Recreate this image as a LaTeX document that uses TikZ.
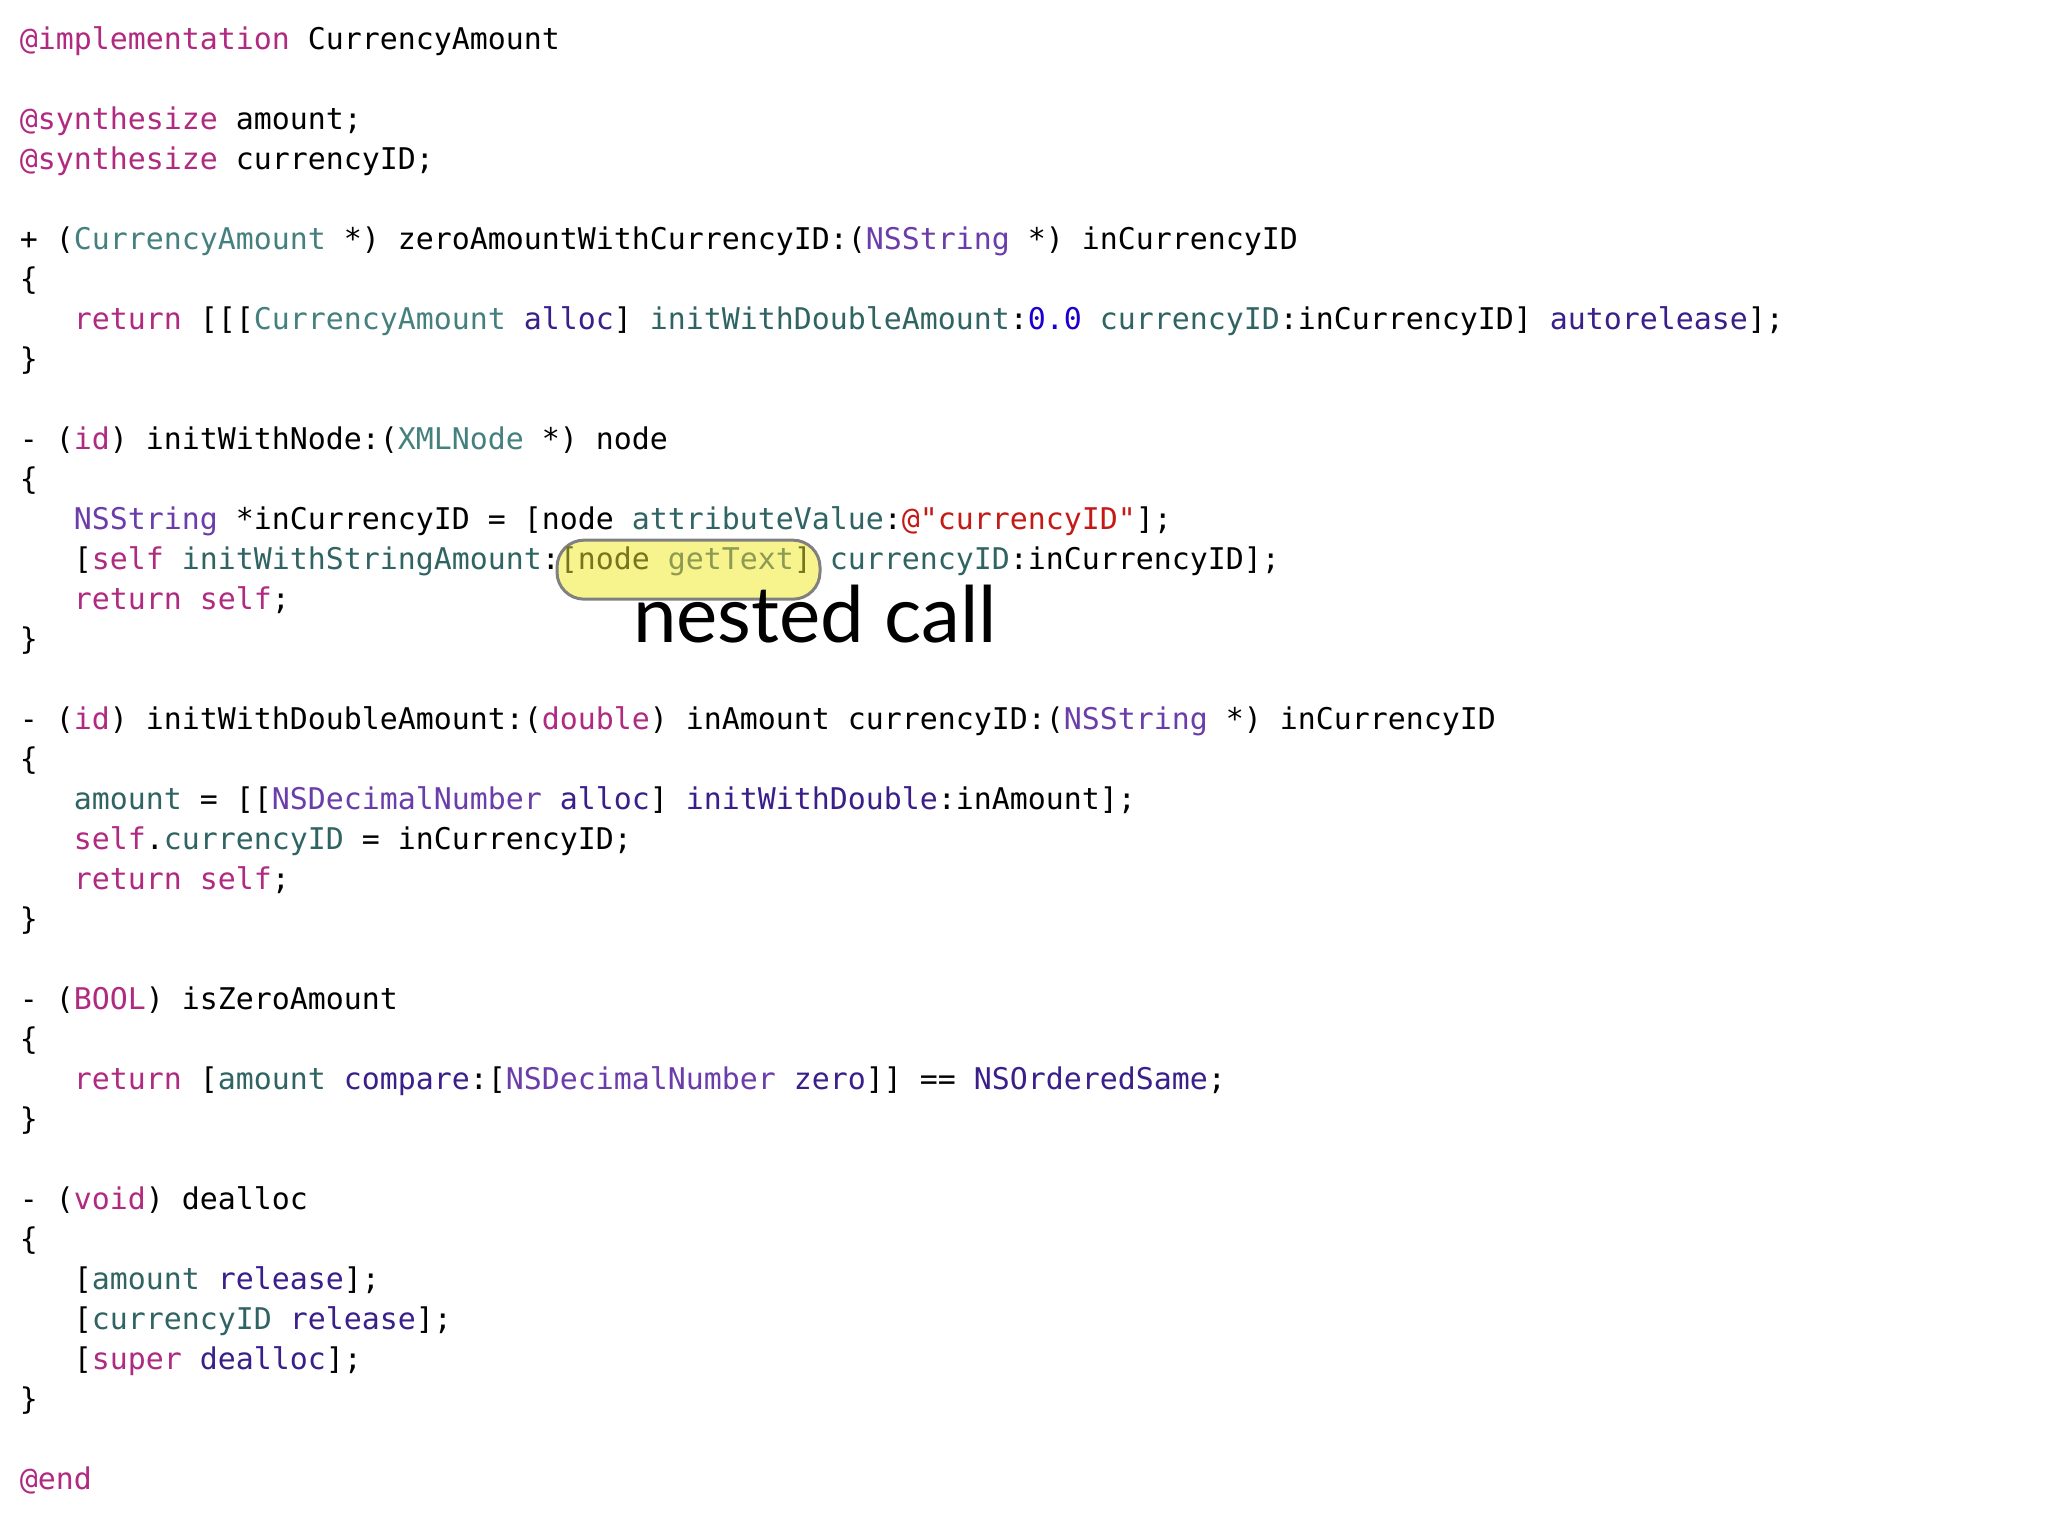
\documentclass[tikz,border=0pt]{standalone}
\usepackage{fontspec}
\newfontfamily\codefont{DejaVu Sans Mono}
\newfontfamily\labelfont{Lato}
\definecolor{kwc}{HTML}{B02A80}
\definecolor{pcc}{HTML}{44807E}
\definecolor{pmc}{HTML}{2F6463}
\definecolor{syc}{HTML}{6A3DAA}
\definecolor{smc}{HTML}{3A1F8A}
\definecolor{nuc}{HTML}{1C00CF}
\definecolor{stc}{HTML}{C41A16}
\definecolor{hlfill}{HTML}{F7F48E}
\definecolor{hltext}{HTML}{76741E}
\definecolor{hlmeth}{HTML}{8C9A52}
\newcommand\tkw[1]{\textcolor{kwc}{#1}}
\newcommand\tpc[1]{\textcolor{pcc}{#1}}
\newcommand\tpm[1]{\textcolor{pmc}{#1}}
\newcommand\tsy[1]{\textcolor{syc}{#1}}
\newcommand\tsm[1]{\textcolor{smc}{#1}}
\newcommand\tnu[1]{\textcolor{nuc}{#1}}
\newcommand\tst[1]{\textcolor{stc}{#1}}
\newcommand\cl[3]{\node[codeline] (l#1) at ({19.6+18.0*#2},{-(47+40*#1)}) {#3};}
\begin{document}
\frenchspacing
\begin{tikzpicture}[x=1pt,y=1pt,
  codeline/.style={anchor=mid west,inner sep=0pt,font=\codefont\fontsize{29.9}{36}\selectfont},
  hlbox/.style={codeline,anchor=mid,draw=gray,line width=3pt,fill=hlfill,rounded corners=27pt,minimum height=59pt,minimum width=263pt}]
\useasboundingbox (0,0) rectangle (2048,-1536);
\cl{0}{0}{\tkw{@implementation} CurrencyAmount}
\cl{2}{0}{\tkw{@synthesize} amount;}
\cl{3}{0}{\tkw{@synthesize} currencyID;}
\cl{5}{0}{+ (\tpc{CurrencyAmount} *) zeroAmountWithCurrencyID:(\tsy{NSString} *) inCurrencyID}
\cl{6}{0}{\{}
\cl{7}{3}{\tkw{return} [[[\tpc{CurrencyAmount} \tsm{alloc}] \tpm{initWithDoubleAmount}:\tnu{0.0} \tpm{currencyID}:inCurrencyID] \tsm{autorelease}];}
\cl{8}{0}{\}}
\cl{10}{0}{- (\tkw{id}) initWithNode:(\tpc{XMLNode} *) node}
\cl{11}{0}{\{}
\cl{12}{3}{\tsy{NSString} *inCurrencyID = [node \tpm{attributeValue}:\tst{@"currencyID"}];}
\node[hlbox] (hl) at (688.5,-567.5) {};
\cl{13}{3}{[\tkw{self} \tpm{initWithStringAmount}:\textcolor{hltext}{[node \textcolor{hlmeth}{getText}]} \tpm{currencyID}:inCurrencyID];}
\cl{14}{3}{\tkw{return self};}
\cl{15}{0}{\}}
\cl{17}{0}{- (\tkw{id}) initWithDoubleAmount:(\tkw{double}) inAmount currencyID:(\tsy{NSString} *) inCurrencyID}
\cl{18}{0}{\{}
\cl{19}{3}{\tpm{amount} = [[\tsy{NSDecimalNumber} \tsm{alloc}] \tsm{initWithDouble}:inAmount];}
\cl{20}{3}{\tkw{self}.\tpm{currencyID} = inCurrencyID;}
\cl{21}{3}{\tkw{return self};}
\cl{22}{0}{\}}
\cl{24}{0}{- (\tkw{BOOL}) isZeroAmount}
\cl{25}{0}{\{}
\cl{26}{3}{\tkw{return} [\tpm{amount} \tsm{compare}:[\tsy{NSDecimalNumber} \tsm{zero}]] == \tsm{NSOrderedSame};}
\cl{27}{0}{\}}
\cl{29}{0}{- (\tkw{void}) dealloc}
\cl{30}{0}{\{}
\cl{31}{3}{[\tpm{amount} \tsm{release}];}
\cl{32}{3}{[\tpm{currencyID} \tsm{release}];}
\cl{33}{3}{[\tkw{super} \tsm{dealloc}];}
\cl{34}{0}{\}}
\cl{36}{0}{\tkw{@end}}
\node[anchor=base,inner sep=0pt,font=\labelfont\fontsize{78}{90}\selectfont] (lbl) at (815,-642) {nested call};
\end{tikzpicture}
\end{document}
